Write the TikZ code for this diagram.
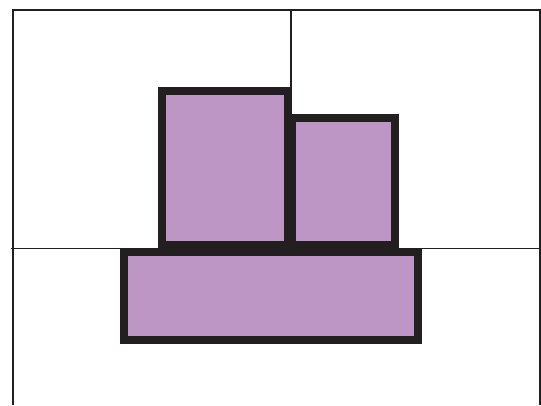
\documentclass[tikz,border=0pt]{standalone}
\usepackage{xcolor}
\usepackage{tikz}
\definecolor{cblock}{RGB}{190,150,198}
\definecolor{cink}{RGB}{35,31,32}

\begin{document}
\begin{tikzpicture}[
  x=1pt,y=-1pt,
  frame/.style={draw=cink,line width=2pt},
  grid/.style={draw=cink,line width=1.6pt},
  block/.style={draw=cink,line width=8pt,fill=cblock},
]
\useasboundingbox (0,0) rectangle (541,405);
% frame open at the bottom
\coordinate (tl) at (13,10);
\coordinate (tr) at (539.5,10);
\draw[frame] (13,405) -- (tl) -- (tr) -- (539.5,405);
\draw[grid] (11,248.5) -- (539.5,248.5);
\draw[grid] (291,10) -- (291,91);
% blocks
\draw[block] (162,91) rectangle (288,244.5);
\draw[block] (292,118) rectangle (394.5,244.5);
\draw[block] (123.5,252) rectangle (417.5,339.5);
\end{tikzpicture}
\end{document}
